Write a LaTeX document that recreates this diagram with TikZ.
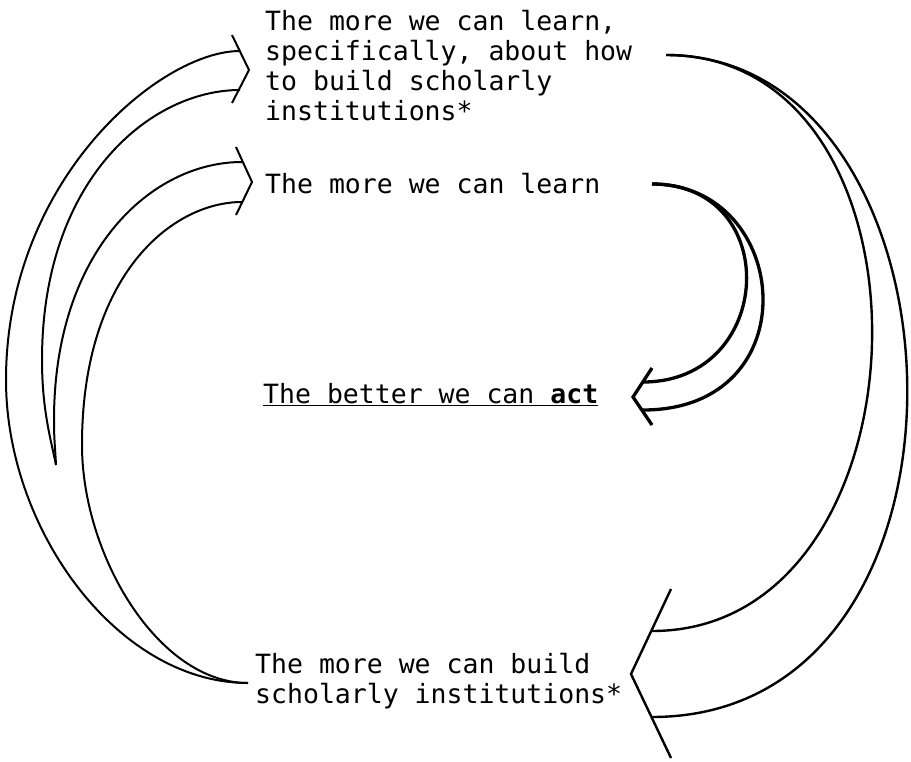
\documentclass[tikz,border=0pt]{standalone}
\usepackage{fontspec}
\newfontfamily\diagfont{DejaVu Sans Mono}

\begin{document}
\begin{tikzpicture}[
    x=1pt, y=-1pt,
    claim/.style={anchor=base west, inner sep=0pt, align=left, font=\diagfont\fontsize{26.5}{30}\selectfont},
    thinline/.style={draw=black, line width=2pt},
    midline/.style={draw=black, line width=2.4pt},
    thickline/.style={draw=black, line width=3.3pt}
]

\useasboundingbox (0,0) rectangle (911,761);

% multi-line claims sit on the baseline of their last line
\node[claim] (spec) at (265,120) {The more we can learn,\\specifically, about how\\to build scholarly\\institutions*};
\node[claim] (learn) at (265,193) {The more we can learn};
\node[claim] (act) at (263,403) {\underline{The better we can \textbf{act}}};
\node[claim] (build) at (255,703) {The more we can build\\scholarly institutions*};

% ends of the arrows
\coordinate (learnTail) at (652,184);
\coordinate (actTip) at (633,397);
\coordinate (specTail) at (666,55);
\coordinate (buildTip) at (631,674);
\coordinate (buildTail) at (248,683);
\coordinate (fork) at (56,465);
\coordinate (specTip) at (249,70);
\coordinate (learnTip) at (252,182);

% learn -> act
\draw[thickline] (learnTail) .. controls +(132,0) and +(132,0) .. ([shift={(10,-15)}]actTip);
\draw[thickline] (learnTail) .. controls +(140,0) and +(168,0) .. ([shift={(10,13)}]actTip);
\draw[thickline] ([shift={(19,-29)}]actTip) -- (actTip) -- ([shift={(19,28)}]actTip);

% spec -> build
\draw[midline] (specTail) .. controls +(284,0) and +(284,0) .. ([shift={(21,-43)}]buildTip);
\draw[midline] (specTail) .. controls +(310,0) and +(352,0) .. ([shift={(21,43)}]buildTip);
\draw[midline] ([shift={(40,-85)}]buildTip) -- (buildTip) -- ([shift={(40,84)}]buildTip);

% build -> spec and learn, split at the fork
\draw[thinline] (buildTail) .. controls +(-130,0) and +(0,150) .. (6,380) .. controls +(0,-200) and +(-80,0) .. ([shift={(-9,-19)}]specTip);
\draw[thinline] (fork) .. controls +(-5,-25) and +(0,50) .. (42,360) .. controls +(0,-180) and +(-90,0) .. ([shift={(-9,20)}]specTip);
\draw[thinline] (fork) .. controls +(-1,-20) and +(0,20) .. (54,420) .. controls +(0,-170) and +(-90,0) .. ([shift={(-10,-20)}]learnTip);
\draw[thinline] (buildTail) .. controls +(-90,0) and +(0,110) .. (82,445) .. controls +(0,-170) and +(-70,0) .. ([shift={(-10,20)}]learnTip);
\draw[thinline] ([shift={(-17,-35)}]specTip) -- (specTip) -- ([shift={(-17,33)}]specTip);
\draw[thinline] ([shift={(-16,-35)}]learnTip) -- (learnTip) -- ([shift={(-16,33)}]learnTip);

\end{tikzpicture}
\end{document}
